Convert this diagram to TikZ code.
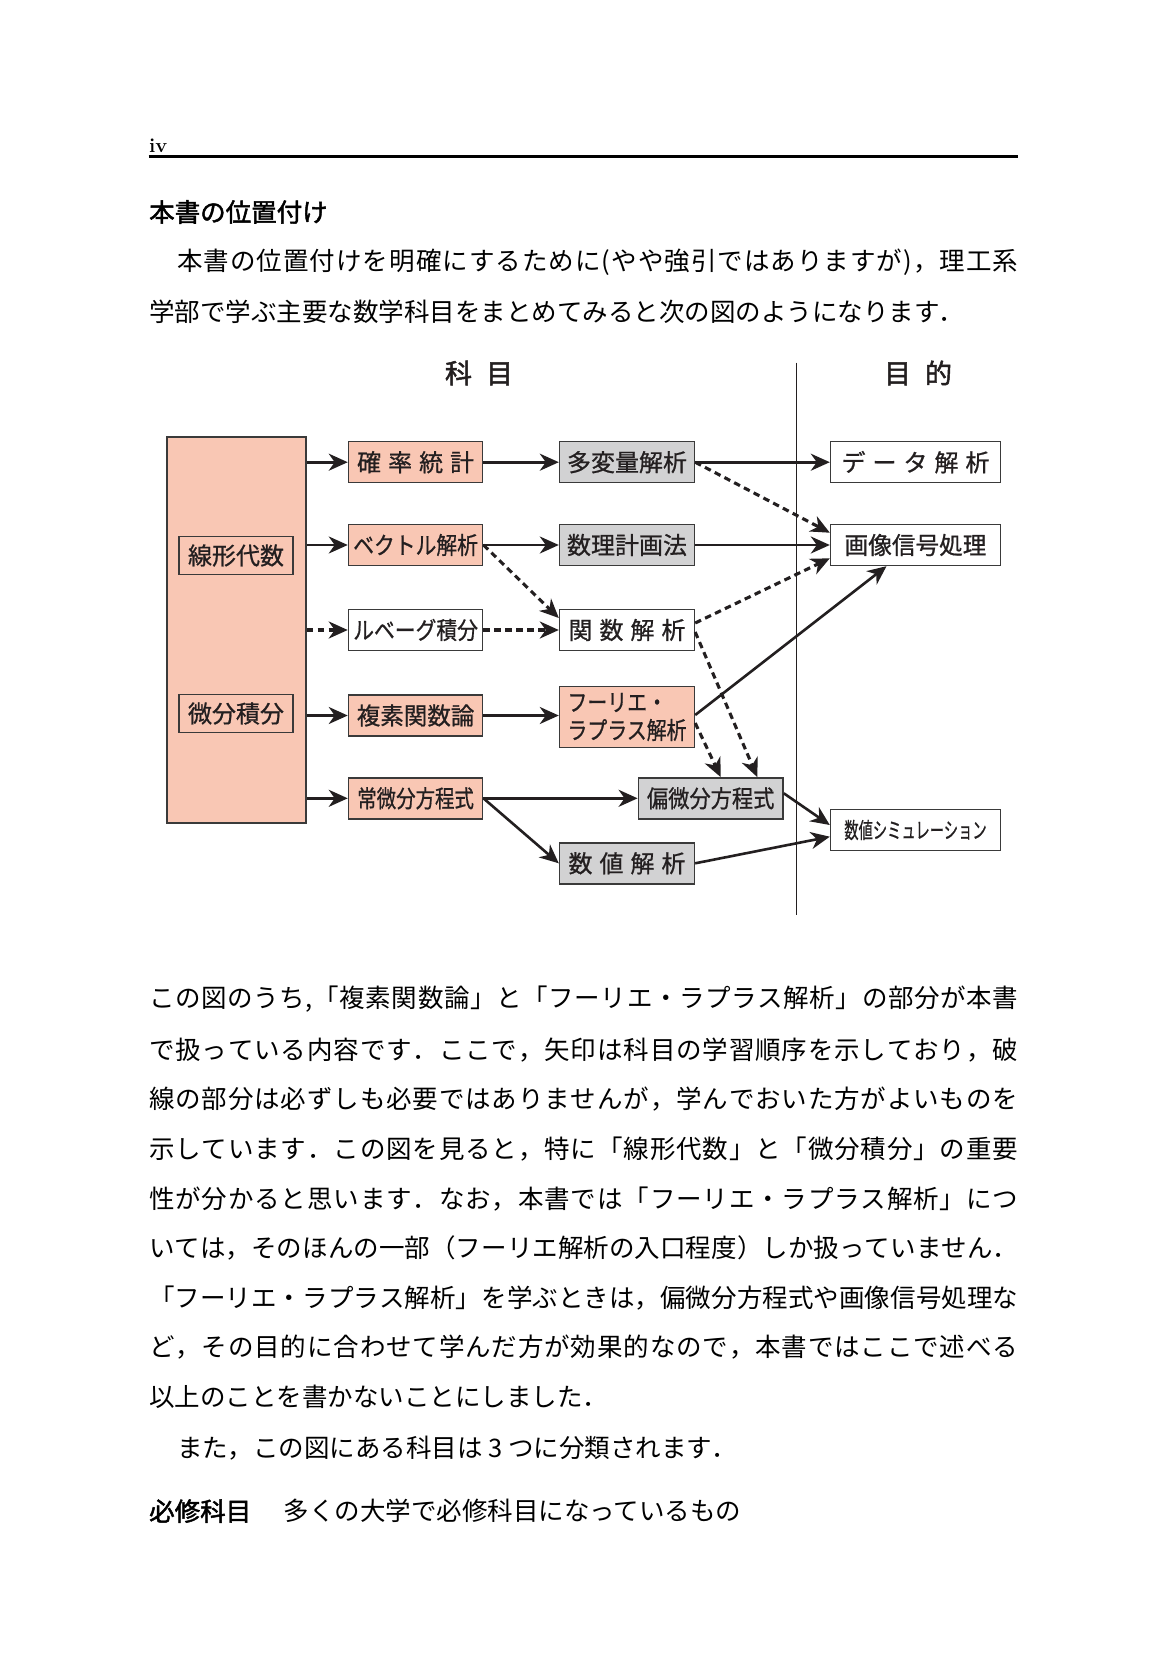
\documentclass[tikz,border=0pt]{standalone}
\usepackage{fontspec}
\usepackage{graphicx}
\usetikzlibrary{arrows.meta}
\newfontfamily\jp{Noto Sans CJK JP}
\newfontfamily\jpm{Noto Sans CJK JP}[FakeBold=0.8]
\newfontfamily\jph{Noto Sans CJK JP}[FakeBold=1.8]
\definecolor{pinkfill}{HTML}{F9C7B4}
\definecolor{grayfill}{HTML}{D2D2D3}
\definecolor{boxline}{HTML}{3A3A3A}
\definecolor{ink}{HTML}{231F20}
\newcommand\sx[2]{\scalebox{#1}[1]{#2}}
% spread characters evenly over a given width
\def\jsstop{\jsstop}
\def\jsA#1{#1\jsB}
\def\jsB#1{\ifx#1\jsstop\else\hskip0pt plus 1fil\relax#1\expandafter\jsB\fi}
\newcommand\jline[2]{\hbox to #1{\jsA#2\jsstop}}
\begin{document}
\begin{tikzpicture}[x=1pt,y=-1pt,
  box/.style={draw=boxline, line width=1.4pt, inner sep=0pt, text=ink,
    font=\jpm\fontsize{24}{28}\selectfont},
  pinkbox/.style={box, fill=pinkfill},
  graybox/.style={box, fill=grayfill},
  whitebox/.style={box, fill=white},
  c2/.style={minimum width=134.3pt, minimum height=41pt},
  c3/.style={minimum width=135pt, minimum height=41pt},
  c4/.style={minimum width=170pt, minimum height=41pt},
  arr/.style={line width=2.6pt, draw=ink, -{Stealth[length=19pt,width=17pt,inset=6pt]}},
  darr/.style={arr, line width=3.1pt, dash pattern=on 6.5pt off 4.5pt},
  vline/.style={line width=1.4pt, draw=ink},
  body/.style={anchor=west, inner sep=0pt, font=\jp\fontsize{25.5}{30}\selectfont},
  head/.style={inner sep=0pt, text=ink, font=\jph\fontsize{27}{30}\selectfont}]
\useasboundingbox (0,0) rectangle (1166,1654);
\fill[white] (0,0) rectangle (1166,1654);

% page header
\node[anchor=west, inner sep=0pt, font=\bfseries\fontsize{20}{24}\selectfont] (pg) at (149,146) {iv};
\coordinate (rl) at (148.6,156);
\coordinate (rr) at (1018,156);
\draw[line width=3pt] (rl) -- (rr);

% heading and first paragraph
\node[body, font=\jph\fontsize{25.5}{30}\selectfont] (h1) at (149,212) {本書の位置付け};
\node[body] (l1) at (177,262.7) {\jline{841pt}{本書の位置付けを明確にするために(やや強引ではありますが)，理工系}};
\node[body] (l2) at (149,311.3) {学部で学ぶ主要な数学科目をまとめてみると次の図のようになります．};

% diagram headers
\node[head] (kamoku) at (479,373) {科\hspace{14pt}目};
\node[head] (mokuteki) at (918,373) {目\hspace{14pt}的};

% vertical divider
\coordinate (vt) at (796.7,362.7);
\coordinate (vb) at (796.7,915);
\draw[vline] (vt) -- (vb);

% left block
\node[pinkbox, minimum width=139pt, minimum height=386pt] (big) at (236.5,630) {};
\node[pinkbox, minimum width=114pt, minimum height=38pt] (lin) at (236,555.5) {線形代数};
\node[pinkbox, minimum width=114pt, minimum height=38pt] (bib) at (236,713.5) {微分積分};

% column 2
\node[pinkbox,c2] (kak) at (415.6,462.2) {確\hspace{7pt}率\hspace{7pt}統\hspace{7pt}計};
\node[pinkbox,c2] (vec) at (415.6,545) {\sx{0.866}{ベクトル解析}};
\node[whitebox,c2] (leb) at (415.6,630) {\sx{0.866}{ルベーグ積分}};
\node[pinkbox,c2] (fuk) at (415.6,715.5) {\sx{0.98}{複素関数論}};
\node[pinkbox,c2] (job) at (415.6,798.3) {\sx{0.81}{常微分方程式}};

% column 3
\node[graybox,c3] (tah) at (627,462.2) {多変量解析};
\node[graybox,c3] (sur) at (627,545) {数理計画法};
\node[whitebox,c3] (kan) at (627,630) {関\hspace{7pt}数\hspace{7pt}解\hspace{7pt}析};
\node[pinkbox,c3, minimum height=60.6pt, align=left] (fou) at (627,717) {\sx{0.83}{フーリエ・}\\\sx{0.83}{ラプラス解析}};
\node[graybox,c3] (suc) at (627,863.3) {数\hspace{7pt}値\hspace{7pt}解\hspace{7pt}析};
\node[graybox, minimum width=144.8pt, minimum height=41pt] (hen) at (710.7,798.3) {\sx{0.885}{偏微分方程式}};

% column 4
\node[whitebox,c4] (dat) at (915.5,462.2) {デ\hspace{7pt}ー\hspace{7pt}タ\hspace{7pt}解\hspace{7pt}析};
\node[whitebox,c4] (gaz) at (915.5,545) {\sx{0.985}{画像信号処理}};
\node[whitebox,c4, font=\jpm\fontsize{22}{26}\selectfont] (sim) at (915.5,830) {\sx{0.65}{数値シミュレーション}};

% connectors
\draw[arr] (big.east |- kak.west) -- (kak.west);
\draw[arr] (big.east |- vec.west) -- (vec.west);
\draw[darr] (big.east |- leb.west) -- (leb.west);
\draw[arr] (big.east |- fuk.west) -- (fuk.west);
\draw[arr] (big.east |- job.west) -- (job.west);
\draw[arr] (kak) -- (tah);
\draw[arr] (vec) -- (sur);
\draw[darr] (leb) -- (kan);
\draw[arr] (fuk.east) -- (fuk.east -| fou.west);
\draw[arr] (job) -- (hen);
\draw[arr] (job.east) -- (suc.west);
\draw[arr] (tah) -- (dat);
\draw[arr] (sur) -- (gaz);
\draw[darr] (tah.east) -- ([yshift=12.3pt]gaz.west);
\draw[darr] ([yshift=7pt]kan.east) -- ([yshift=-13.3pt]gaz.west);
\draw[darr] (vec.east) -- ([yshift=12pt]kan.west);
\draw[arr] ([yshift=2pt]fou.east) -- ([xshift=-29pt]gaz.south);
\draw[darr] ([yshift=-6pt]fou.east) -- ([xshift=10pt]hen.north);
\draw[darr] ([yshift=-2pt]kan.east) -- ([xshift=46.6pt]hen.north);
\draw[arr] ([yshift=5pt]hen.east) -- ([yshift=5pt]sim.west);
\draw[arr] (suc.east) -- ([yshift=-6.7pt]sim.west);

% second paragraph
\node[body] (l3) at (149,999.3) {\jline{869pt}{この図のうち,「複素関数論」と「フーリエ・ラプラス解析」の部分が本書}};
\node[body] (l4) at (149,1049.9) {\jline{869pt}{で扱っている内容です．ここで，矢印は科目の学習順序を示しており，破}};
\node[body] (l5) at (149,1099.5) {\jline{869pt}{線の部分は必ずしも必要ではありませんが，学んでおいた方がよいものを}};
\node[body] (l6) at (149,1149.1) {\jline{869pt}{示しています．この図を見ると，特に「線形代数」と「微分積分」の重要}};
\node[body] (l7) at (149,1198.7) {\jline{869pt}{性が分かると思います．なお，本書では「フーリエ・ラプラス解析」につ}};
\node[body] (l8) at (149,1248.3) {\jline{869pt}{いては，そのほんの一部（フーリエ解析の入口程度）しか扱っていません．}};
\node[body] (l9) at (149,1297.9) {\jline{869pt}{「フーリエ・ラプラス解析」を学ぶときは，偏微分方程式や画像信号処理な}};
\node[body] (l10) at (149,1347.4) {\jline{869pt}{ど，その目的に合わせて学んだ方が効果的なので，本書ではここで述べる}};
\node[body] (l11) at (149,1397.1) {以上のことを書かないことにしました．};
\node[body] (l12) at (177,1447.9) {また，この図にある科目は 3 つに分類されます．};
\node[body, font=\jph\fontsize{25.5}{30}\selectfont] (l13a) at (149,1511.1) {必修科目};
\node[body] (l13b) at (283.5,1511.1) {多くの大学で必修科目になっているもの};
\end{tikzpicture}
\end{document}
